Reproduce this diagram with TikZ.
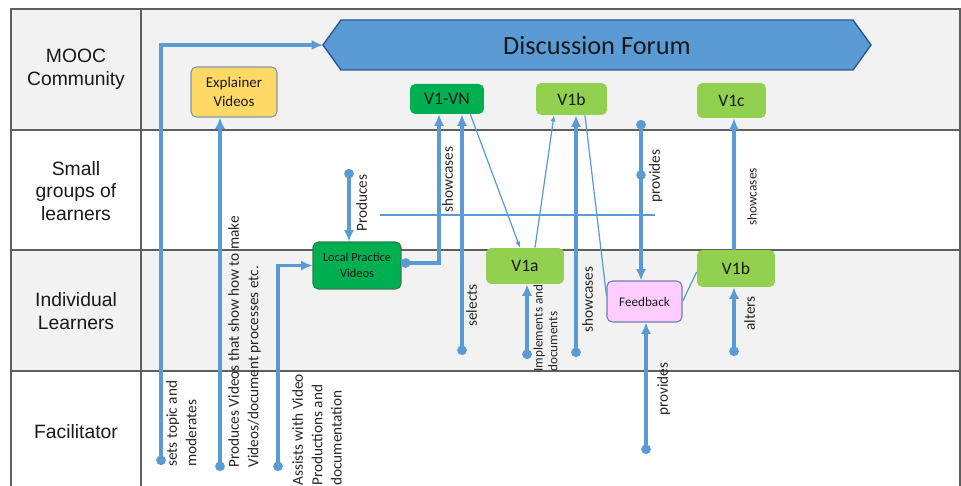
\documentclass[tikz,border=0pt]{standalone}
\usepackage{fontspec}
\setmainfont{Carlito}
\newfontfamily\lanefont{Liberation Sans}
\usetikzlibrary{arrows.meta, positioning}

\definecolor{laneGray}{HTML}{F2F2F2}
\definecolor{frameGray}{HTML}{5F5F5F}
\definecolor{flowBlue}{HTML}{5B9BD5}
\definecolor{forumEdge}{HTML}{2F5597}
\definecolor{darkGreen}{HTML}{00B050}
\definecolor{darkGreenEdge}{HTML}{2E7D4F}
\definecolor{lightGreen}{HTML}{92D050}
\definecolor{explYellow}{HTML}{FFD966}
\definecolor{explEdge}{HTML}{8497B0}
\definecolor{fbPink}{HTML}{FFCCFF}
\definecolor{fbEdge}{HTML}{6F7FB5}

\tikzset{
  lane/.style={font=\lanefont\fontsize{11}{13}\selectfont, align=center, text=black!90},
  box/.style={rounded corners=3pt, align=center, inner sep=1pt, text=black!90},
  vidbox/.style={box, fill=lightGreen, font=\fontsize{10}{12}\selectfont},
  flow/.style={draw=flowBlue, line width=2pt, arrows={Circle[length=5.4pt]-Latex[length=6.5pt,width=5.8pt]}},
  flowend/.style={draw=flowBlue, line width=2pt, arrows={-Latex[length=6.5pt,width=5.8pt]}},
  thinline/.style={draw=flowBlue, line width=0.7pt},
  thinarr/.style={thinline, arrows={-Latex[length=3.5pt,width=3pt]}},
  verb/.style={rotate=90, anchor=north west, align=left, inner sep=0pt,
    font=\fontsize{8.7}{11}\selectfont, text=black!85},
}

\begin{document}
\begin{tikzpicture}[x=0.02cm, y=-0.02cm]
\useasboundingbox (0,0) rectangle (961,486);

% swim lanes
\fill[laneGray] (11,9) rectangle (960,130);
\fill[laneGray] (11,250) rectangle (960,371);
\foreach \ly in {130,250,371} {
  \draw[frameGray, line width=1.1pt] (11,\ly) -- (960,\ly);
}
\draw[frameGray, line width=1.1pt] (11,486) -- (11,9) -- (960,9) -- (960,486);
\draw[frameGray, line width=1.1pt] (141,9) -- (141,486);

\node[lane] (mooc) at (76,69) {MOOC\\Community};
\node[lane] (small) at (76,191) {Small\\groups of\\learners};
\node[lane] (indiv) at (76,311) {Individual\\Learners};
\node[lane] (facil) at (76,432) {Facilitator};

% discussion forum banner
\draw[fill=flowBlue, draw=forumEdge, line width=0.8pt]
  (323,45) -- (341,20) -- (853,20) -- (871,45) -- (853,70) -- (341,70) -- cycle;
\coordinate (forumtip) at (323,45);
\node[font=\fontsize{15}{18}\selectfont, text=black!90] (forum) at (597,46) {Discussion Forum};

% video boxes
\node[box, fill=explYellow, draw=explEdge, line width=0.6pt, minimum width=1.72cm, minimum height=1cm,
  font=\fontsize{8.5}{10.5}\selectfont] (expl) at (234,92) {Explainer\\Videos};
\node[box, fill=darkGreen, minimum width=1.48cm, minimum height=0.6cm,
  font=\fontsize{10}{12}\selectfont] (vvn) at (447,99) {V1-VN};
\node[vidbox, minimum width=1.42cm, minimum height=0.64cm] (vbt) at (571.5,99) {V1b};
\node[vidbox, minimum width=1.38cm, minimum height=0.7cm] (vc) at (731.5,100.5) {V1c};
\node[box, fill=darkGreen, draw=darkGreenEdge, line width=0.6pt, minimum width=1.76cm, minimum height=0.94cm,
  font=\fontsize{7}{9}\selectfont] (lpv) at (357,265.5) {Local Practice\\Videos};
\node[vidbox, minimum width=1.56cm, minimum height=0.72cm] (va) at (525,266) {V1a};
\node[box, fill=fbPink, draw=fbEdge, line width=0.6pt, minimum width=1.5cm, minimum height=0.82cm,
  font=\fontsize{7.5}{9}\selectfont] (fb) at (644.5,301.5) {Feedback};
\node[vidbox, minimum width=1.56cm, minimum height=0.74cm] (vbl) at (736,268.5) {V1b};

% start points of the flows
\coordinate (dtopic) at (161,465);
\coordinate (dmake) at (220,471);
\coordinate (dassist) at (278,471);
\coordinate (dprod) at (349,169);
\coordinate (dshow) at (401,263);
\coordinate (dsel) at (462,355);
\coordinate (dimpl) at (527,359);
\coordinate (dshowb) at (576,357);
\coordinate (dprov) at (641,120);
\coordinate (dprovb) at (646,454);
\coordinate (dalt) at (734,356);

% flows
\draw[flow] (dtopic) -- (dtopic |- forumtip) -- (forumtip);
\draw[flow] (dmake) -- (dmake |- expl.south);
\draw[flow] (dassist) -- (dassist |- lpv.west) -- (lpv.west);
\draw[flow] (dprod) -- (dprod |- lpv.north);
\draw[flow] (dshow) -| ([xshift=-0.16cm]vvn.south);
\draw[flow] (dsel) -- (dsel |- vvn.south);
\draw[flow] (dimpl) -- (dimpl |- va.south);
\draw[flow] (dshowb) -- (dshowb |- vbt.south);
\draw[flow] (dprov) -- (dprov |- fb.north);
\fill[flowBlue] (641,175) circle (4.8);
\draw[flow] (dprovb) -- (dprovb |- fb.south);
\draw[flow] (dalt) -- (dalt |- vbl.south);
\draw[flowend] (vbl.north -| dalt) -- (vc.south -| dalt);

% thin links
\draw[thinarr] ([xshift=-0.28cm]vvn.south east) -- ([xshift=-0.1cm]va.north);
\draw[thinarr] ([xshift=0.2cm]va.north) -- ([xshift=-0.35cm]vbt.south);
\draw[thinline] ([xshift=0.27cm]vbt.south) -- ([yshift=0.11cm]fb.west);
\draw[thinline] (fb.east) -- ([yshift=-0.07cm]vbl.west);
\coordinate (hline1) at (380,215);
\coordinate (hline2) at (655,215);
\draw[thinline] (hline1) -- (hline2);

% flow labels
\node[verb] (ltopic) at (166,467) {sets topic and\\moderates};
\node[verb] (lmake) at (228,468) {Produces Videos that show how to make\\Videos/document processes etc.};
\node[verb] (lassist) at (292,486) {Assists with Video\\Productions and\\documentation};
\node[verb] (lprod) at (356,232) {Produces};
\node[verb] (lshow) at (442,213) {showcases};
\node[verb] (lsel) at (466,327) {selects};
\node[verb, font=\fontsize{7.5}{8.5}\selectfont] (limpl) at (533,372) {Implements and\\documents};
\node[verb] (lshowb) at (582,333) {showcases};
\node[verb] (lprov) at (649,203) {provides};
\node[verb, font=\fontsize{7.6}{9}\selectfont] (lshowc) at (747,226) {showcases};
\node[verb] (lalt) at (744,331) {alters};
\node[verb] (lprovb) at (657,416) {provides};
\end{tikzpicture}
\end{document}
